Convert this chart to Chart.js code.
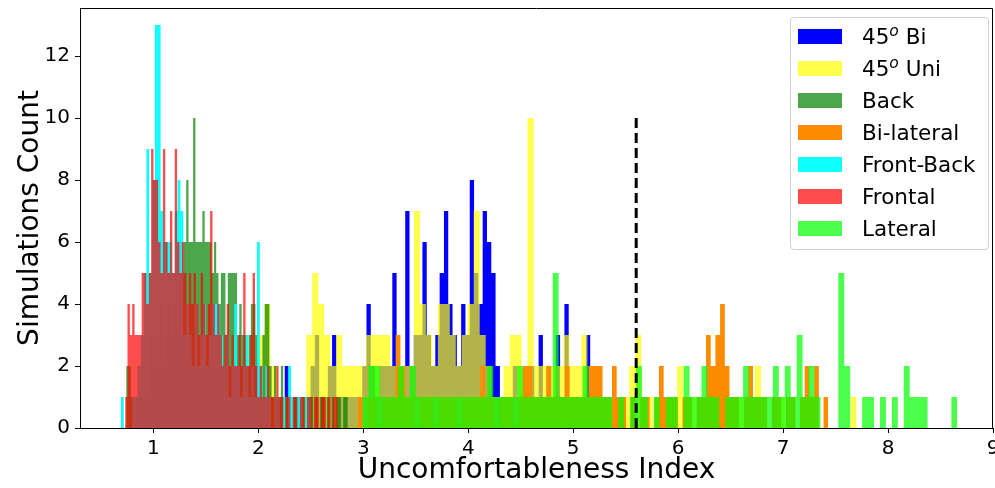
<!DOCTYPE html>
<html>
<head>
<meta charset="utf-8">
<script src="https://cdn.jsdelivr.net/npm/chart.js@4.4.1/dist/chart.umd.min.js"></script>
<style>
  html, body { margin: 0; padding: 0; background: #fff; }
  #wrap { position: relative; width: 995px; height: 488px; font-family: 'DejaVu Sans', sans-serif; }
  #legend {
    position: absolute; left: 790px; top: 17px; width: 197px; height: 229px; padding-top: 2px;
    box-sizing: content-box; border: 1px solid #d0d0d0; border-radius: 4px; background: rgba(255,255,255,0.8);
  }
  .item { height: 32.15px; display: flex; align-items: center; }
  .sw { width: 44px; height: 15px; margin-left: 7px; margin-right: 20px; }
  .lbl { font-size: 21.5px; color: #000; line-height: 1; }
  .lbl sup { font-size: 0.72em; font-style: italic; }
</style>
</head>
<body>
<div id="wrap">
  <canvas id="chart" width="995" height="488"></canvas>
  <div id="legend"></div>
</div>
<script>
// axis setup
var X_MIN = 0.3, X_MAX = 9.0;
var Y_MIN = 0, Y_MAX = 13.55;
var X_TICKS = [1, 2, 3, 4, 5, 6, 7, 8, 9];
var Y_TICKS = [0, 2, 4, 6, 8, 10, 12];

// series, in the order they were plotted
var SERIES_NAMES = ['45o Bi', '45o Uni', 'Back', 'Bi-lateral', 'Front-Back', 'Frontal', 'Lateral'];
var SERIES_COLORS = ['rgba(0,0,255,1)', 'rgba(255,255,0,0.7)', 'rgba(0,128,0,0.7)', 'rgba(255,140,0,1)',
                     'rgba(0,255,255,0.95)', 'rgba(255,0,0,0.7)', 'rgba(0,255,0,0.7)'];

// histogram bins: first edge and bin width of each series
var BIN_START = [2.21, 2.0, 0.74, 2.95, 0.69, 0.73, 2.99];
var BIN_WIDTH = [0.041, 0.057, 0.022, 0.0448, 0.027, 0.0225, 0.0567];

// simulation counts per bin
var COUNTS_45_BI = [1,2,0,1,1,0,1,2,3,1, 1,2,3,1,1,1,1,1,1,2, 4,2,1,2,2,2,5,2,2,7,
                    2,3,3,6,3,2,3,5,7,4, 3,2,4,3,8,5,4,7,6,5, 2,1,1,1,2,1,1,1,2,1,
                    3,1,2,1,3,1,4,1,1,1, 1,3,1,1];
var COUNTS_45_UNI = [3,4,2,1,1,1,1,1,3,5, 4,3,2,3,2,2,2,2,3,3, 3,3,2,2,2,2,7,4,3,2,
                     4,4,3,2,3,4,7,3,2,1, 1,2,3,3,2,10,2,2,2,2, 2,3,2,2,3,1,2,1,1,0,
                     1,1,2,3,1,1,0,0,1,1, 2,0,1,0,0,1,0,1,0,0, 1,0,0,2,0,0,0,1,0,0,
                     0,1,0,0,0,0,0,0,0,1];
var COUNTS_BACK = [2,2,1,0,1,2,1,2,1,2, 3,2,3,2,3,4,2,3,4,3, 4,5,4,6,5,6,8,6,6,10,
                   6,6,6,7,6,6,6,5,6,5, 4,5,5,3,5,5,5,5,3,4, 3,3,2,3,4,4,3,2,2,3,
                   4,4,2,1,2,1,1,2,1,1, 1,0,1,1,1,0,1,1,0,1, 1,0,1,0,1,1,0,1,0,1,
                   0,1,1,0,1,1];
var COUNTS_BI_LATERAL = [1,0,1,1,0,1,1,1,3,2, 1,1,0,1,1,1,0,1,1,1, 1,0,1,1,1,1,2,1,1,0,
                         1,1,1,0,1,2,2,1,1,1, 2,1,1,1,2,1,1,1,1,2, 2,2,1,1,2,1,1,0,1,0,
                         1,1,0,1,2,1,1,1,0,1, 1,0,1,1,3,2,3,4,2,1, 1,0,1,2,1,1,1,0,1,1,
                         0,1,1,0,1,2,1,2,0,1];
var COUNTS_FRONT_BACK = [1,0,0,0,1,1,2,3,5,9, 5,8,13,13,7,6,6,6,5,7, 8,7,3,4,3,2,4,2,3,4,
                         2,3,4,4,4,3,2,3,1,2, 4,2,1,2,3,1,2,1,6,2, 1,2,1,0,1,1,0,1,0,2,
                         1,0,1,1,0,1,1];
var COUNTS_FRONTAL = [1,4,3,4,3,3,3,5,5,4, 5,9,8,8,6,5,9,6,5,7, 5,9,6,5,6,5,4,5,4,5,
                      4,3,5,4,3,4,7,4,3,4, 3,2,3,4,2,3,2,2,3,2, 5,2,2,3,5,2,1,2,1,1,
                      2,1,1,1,2,1,1,0,1,1, 0,1,1,0,1,1,0,1,1,0, 1,1,0,1,1,0,1,0,1,1];
var COUNTS_LATERAL = [1,2,2,1,1,1,2,1,2,1, 1,1,1,1,1,1,1,1,1,1, 1,2,1,1,1,1,2,1,1,1,
                      1,1,5,1,1,1,1,2,1,1, 1,1,0,1,0,1,2,1,0,1, 0,1,1,0,2,1,1,2,1,1,
                      0,1,1,1,2,1,1,1,1,2, 1,2,1,3,1,2,1,0,0,0, 5,2,0,0,1,1,0,1,0,1,
                      0,2,1,1,1,0,0,0,0,1];
var SERIES_COUNTS = [COUNTS_45_BI, COUNTS_45_UNI, COUNTS_BACK, COUNTS_BI_LATERAL,
                     COUNTS_FRONT_BACK, COUNTS_FRONTAL, COUNTS_LATERAL];

// threshold marker
var THRESHOLD_X = 5.6;
var THRESHOLD_Y = [0, 10];

// histogram -> step outline (left edge of each bin, closing edge at the end)
function histSteps(start, width, counts) {
    var pts = counts.map(function (c, i) { return { x: start + i * width, y: c }; });
    pts.push({ x: start + counts.length * width, y: 0 });
    return pts;
}

var datasets = SERIES_NAMES.map(function (name, i) {
    return {
        label: name,
        data: histSteps(BIN_START[i], BIN_WIDTH[i], SERIES_COUNTS[i]),
        stepped: 'before',
        fill: 'origin',
        backgroundColor: SERIES_COLORS[i],
        borderColor: 'rgba(0,0,0,0)',
        borderWidth: 0,
        pointRadius: 0,
        order: SERIES_NAMES.length - i
    };
});
datasets.push({
    label: 'threshold',
    data: THRESHOLD_Y.map(function (y) { return { x: THRESHOLD_X, y: y }; }),
    borderColor: '#000',
    borderWidth: 3,
    borderDash: [10, 5],
    fill: false,
    pointRadius: 0,
    order: -1
});

// axes box on all four sides
var framePlugin = {
    id: 'frame',
    afterDatasetsDraw: function (chart) {
        var a = chart.chartArea, c = chart.ctx;
        c.save();
        c.strokeStyle = '#000';
        c.lineWidth = 1;
        c.beginPath();
        c.moveTo(a.left + 0.5, a.bottom + 0.5);
        c.lineTo(a.left + 0.5, a.top + 0.5);
        c.lineTo(a.right - 0.5, a.top + 0.5);
        c.lineTo(a.right - 0.5, a.bottom + 0.5);
        c.closePath();
        c.stroke();
        c.restore();
    }
};

var tickFont = { family: 'DejaVu Sans', size: 20 };
var titleFont = { family: 'DejaVu Sans', size: 28 };

new Chart(document.getElementById('chart'), {
    type: 'line',
    data: { datasets: datasets },
    options: {
        responsive: false,
        animation: false,
        devicePixelRatio: 1,
        layout: { padding: { left: 0, right: 2, top: 8, bottom: 0 }, autoPadding: false },
        plugins: {
            legend: { display: false },
            tooltip: { enabled: false }
        },
        scales: {
            x: {
                type: 'linear',
                min: X_MIN,
                max: X_MAX,
                afterBuildTicks: function (s) { s.ticks = X_TICKS.map(function (v) { return { value: v }; }); },
                afterFit: function (s) { s.height = 60; s.paddingLeft = 0; s.paddingRight = 0; },
                grid: { drawOnChartArea: false, drawTicks: true, tickLength: 5, color: '#000' },
                border: { display: true, color: '#000', width: 1 },
                ticks: { autoSkip: false, maxRotation: 0, padding: 4, color: '#000', font: tickFont },
                title: { display: true, text: 'Uncomfortableness Index', color: '#000', font: titleFont,
                         padding: { top: 0, bottom: 0 } }
            },
            y: {
                type: 'linear',
                min: Y_MIN,
                max: Y_MAX,
                afterBuildTicks: function (s) { s.ticks = Y_TICKS.map(function (v) { return { value: v }; }); },
                afterFit: function (s) { s.width = 80; s.paddingTop = 0; s.paddingBottom = 0; },
                grid: { drawOnChartArea: false, drawTicks: true, tickLength: 5, color: '#000' },
                border: { display: true, color: '#000', width: 1 },
                ticks: { autoSkip: false, padding: 5, color: '#000', font: tickFont },
                title: { display: true, text: 'Simulations Count', color: '#000', font: titleFont,
                         padding: { top: 14, bottom: 0 } }
            }
        }
    },
    plugins: [framePlugin]
});

// legend box (upper right, inside the axes)
var legend = document.getElementById('legend');
SERIES_NAMES.forEach(function (name, i) {
    var row = document.createElement('div');
    row.className = 'item';
    var sw = document.createElement('div');
    sw.className = 'sw';
    sw.style.background = SERIES_COLORS[i];
    var lbl = document.createElement('span');
    lbl.className = 'lbl';
    if (name.indexOf('45o') === 0) {
        lbl.appendChild(document.createTextNode('45'));
        var sup = document.createElement('sup');
        sup.textContent = 'o';
        lbl.appendChild(sup);
        lbl.appendChild(document.createTextNode(name.slice(3)));
    } else {
        lbl.textContent = name;
    }
    row.appendChild(sw);
    row.appendChild(lbl);
    legend.appendChild(row);
});
</script>
</body>
</html>
